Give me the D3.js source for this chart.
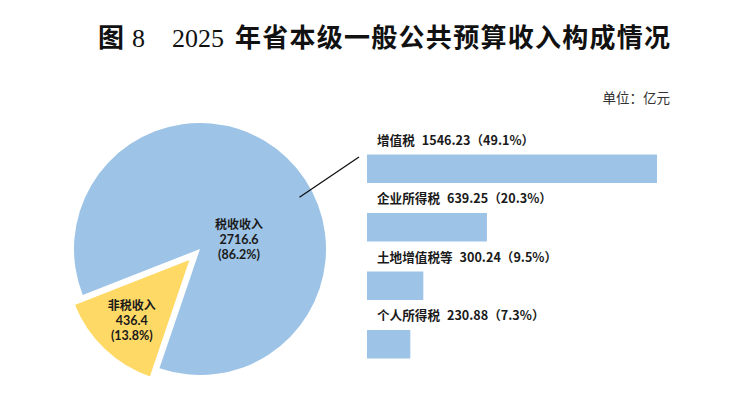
<!DOCTYPE html>
<html><head><meta charset="utf-8">
<script src="https://cdn.jsdelivr.net/npm/d3@7"></script>
<style>
html,body{margin:0;padding:0;background:#fff;}
svg{display:block;}
text{white-space:pre;}
</style></head>
<body>
<svg id="c" width="731" height="399"></svg>
<script>
// ---- data ----
const pieNames = ["税收收入", "非税收入"];
const pieValues = [2716.6, 436.4];
const piePcts = ["86.2", "13.8"];

const barNames = ["增值税", "企业所得税", "土地增值税等", "个人所得税"];
const barValues = [1546.23, 639.25, 300.24, 230.88];
const barPcts = ["49.1", "20.3", "9.5", "7.3"];

const titleFig = "图";
const titleNum = "8";
const titleYear = "2025";
const titleText = "年省本级一般公共预算收入构成情况";
const unitText = "单位：亿元";

// ---- setup ----
const svg = d3.select("#c");
const CJK = "'Noto Sans CJK SC','Noto Sans',sans-serif";
const LAT = "Lato,'Noto Sans',sans-serif";
const SERIF = "'Liberation Serif','DejaVu Serif',serif";
const BLUE = "#9dc3e6", YELLOW = "#ffd966";

// title
const tg = svg.append("g").attr("fill", "#111");
tg.append("text").attr("x", 98).attr("y", 47).attr("font-family", CJK).attr("font-weight", 700).attr("font-size", 26).text(titleFig);
tg.append("text").attr("x", 132).attr("y", 47).attr("font-family", SERIF).attr("font-size", 26).text(titleNum);
tg.append("text").attr("x", 172).attr("y", 47).attr("font-family", SERIF).attr("font-size", 26).text(titleYear);
tg.append("text").attr("x", 235).attr("y", 47).attr("font-family", CJK).attr("font-weight", 700).attr("font-size", 26)
  .attr("textLength", 435).attr("lengthAdjust", "spacing").text(titleText);

svg.append("text").attr("x", 670).attr("y", 103).attr("text-anchor", "end")
  .attr("font-family", CJK).attr("font-size", 13.5).attr("fill", "#333").text(unitText);

// ---- pie ----
const cx = 200, cy = 249, R = 126;
const deg = Math.PI / 180;
const start = -111.4 * deg;
const pie = d3.pie().sort(null).startAngle(start).endAngle(start + 2 * Math.PI);
const arcs = pie(pieValues);
const arc = d3.arc().innerRadius(0).outerRadius(R);
const labelArc = d3.arc().innerRadius(R * 0.68).outerRadius(R * 0.68);
const explode = 13;

const pg = svg.append("g").attr("transform", `translate(${cx},${cy})`);
const offs = arcs.map((a, i) => {
  if (i === 0) return [0, 0];
  const m = (a.startAngle + a.endAngle) / 2;
  return [Math.sin(m) * explode, -Math.cos(m) * explode];
});
pg.selectAll("path.slice").data(arcs).join("path")
  .attr("class", "slice")
  .attr("d", arc)
  .attr("transform", (d, i) => `translate(${offs[i][0]},${offs[i][1]})`)
  .attr("fill", (d, i) => i === 0 ? BLUE : YELLOW)
  .attr("stroke", "#fff").attr("stroke-width", (d, i) => i === 0 ? 0 : 2)
  .attr("stroke-linejoin", "miter");

// pie labels (one text per line)
const labelPos = arcs.map((a, i) => {
  if (i === 0) return [39, -9.5];
  const c = labelArc.centroid(a);
  return [c[0] + offs[i][0], c[1] + offs[i][1]];
});
const lineDy = [-15, 0.5, 15];
arcs.forEach((a, i) => {
  const lines = [pieNames[i], String(pieValues[i]), "(" + piePcts[i] + "%)"];
  lines.forEach((ln, k) => {
    pg.append("text").attr("text-anchor", "middle")
      .attr("font-family", k === 0 ? CJK : LAT).attr("font-weight", 700)
      .attr("font-size", k === 0 ? 12 : 12.5).attr("fill", "#1a1a1a")
      .attr("x", labelPos[i][0]).attr("y", labelPos[i][1] + lineDy[k] + 4.3).text(ln);
  });
});

// ---- bars ----
const x = d3.scaleLinear().domain([0, barValues[0]]).range([367, 657]);
const y = d3.scaleBand().domain(barNames).range([154.5, 358.5]).paddingInner(0.513).paddingOuter(0);

svg.append("g").selectAll("rect").data(barValues).join("rect")
  .attr("x", x(0))
  .attr("y", (d, i) => y(barNames[i]))
  .attr("width", d => x(d) - x(0))
  .attr("height", y.bandwidth())
  .attr("fill", BLUE);

const bl = svg.append("g").selectAll("text").data(barValues).join("text")
  .attr("x", x(0) + 10)
  .attr("y", (d, i) => y(barNames[i]) - 10)
  .attr("font-family", CJK).attr("font-weight", 700).attr("font-size", 12.6).attr("fill", "#1a1a1a");
bl.append("tspan").text((d, i) => barNames[i]);
bl.append("tspan").attr("dx", 7).text((d, i) => d + "（" + barPcts[i] + "%）");

// leader line
const la = 62.5 * deg, lr = R * 0.89;
svg.append("line")
  .attr("x1", cx + Math.sin(la) * lr).attr("y1", cy - Math.cos(la) * lr)
  .attr("x2", x(0) - 8).attr("y2", y(barNames[0]) + 2.5)
  .attr("stroke", "#111").attr("stroke-width", 1.3);
</script>
</body></html>
